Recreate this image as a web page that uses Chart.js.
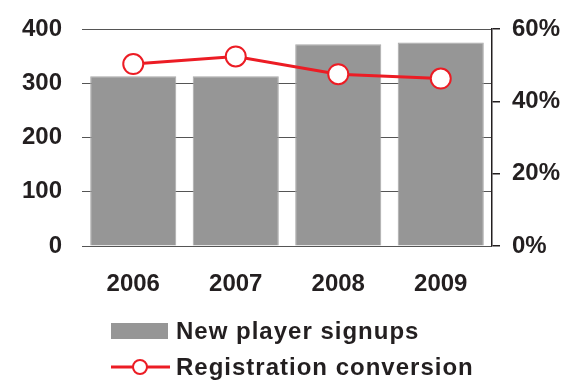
<!DOCTYPE html>
<html>
<head>
<meta charset="utf-8">
<script src="https://cdn.jsdelivr.net/npm/chart.js@4/dist/chart.umd.min.js"></script>
<style>
  html, body { margin: 0; padding: 0; background: #ffffff; }
  #wrap { width: 567px; height: 381px; }
</style>
</head>
<body>
<div id="wrap"><canvas id="chart" width="567" height="381"></canvas></div>
<script>
// Yearly figures
const years = ['2006', '2007', '2008', '2009'];
const signups = [313, 313, 372, 375];            // new player signups
const conversion = [50.3, 52.4, 47.5, 46.3];     // registration conversion, %
const leftTicks = [0, 100, 200, 300, 400];
const rightTicks = [0, 20, 40, 60];

const seriesNames = ['New player signups', 'Registration conversion'];

const TEXT = '#231f20';
const BAR = '#969696';
const RED = '#ec1c24';
const FONT = '"Liberation Sans", Arial, Helvetica, sans-serif';

// Legend drawn underneath the axes, one row per series
const legendRows = {
  id: 'legendRows',
  afterDraw(chart) {
    const ctx = chart.ctx;
    const ds = chart.data.datasets;
    const bars = ds.find(d => d.type === 'bar');
    const line = ds.find(d => d.type === 'line');
    ctx.save();
    ctx.font = 'bold 24px ' + FONT;
    if ('letterSpacing' in ctx) ctx.letterSpacing = '1px';
    ctx.textBaseline = 'middle';
    ctx.textAlign = 'left';

    // bar swatch
    ctx.fillStyle = bars.backgroundColor;
    ctx.fillRect(111, 323, 57, 16);
    ctx.fillStyle = TEXT;
    ctx.fillText(bars.label, 176, 332);

    // line + marker swatch
    ctx.strokeStyle = line.borderColor;
    ctx.lineWidth = 3;
    ctx.beginPath();
    ctx.moveTo(111, 367);
    ctx.lineTo(170, 367);
    ctx.stroke();
    ctx.beginPath();
    ctx.arc(140, 367, 7, 0, Math.PI * 2);
    ctx.fillStyle = '#ffffff';
    ctx.fill();
    ctx.lineWidth = 2;
    ctx.stroke();
    ctx.fillStyle = TEXT;
    ctx.fillText(line.label, 176, 368);
    ctx.restore();
  }
};

// fixed axis sizes so the plot area sits at a known place
function fitY(width) {
  return scale => {
    scale.width = width;
    scale.paddingTop = 0;
    scale.paddingBottom = 0;
  };
}

new Chart(document.getElementById('chart'), {
  data: {
    labels: years,
    datasets: [
      {
        type: 'line',
        label: seriesNames[1],
        data: conversion,
        yAxisID: 'y1',
        borderColor: RED,
        borderWidth: 3,
        pointRadius: 10,
        pointBorderWidth: 2,
        pointBackgroundColor: '#ffffff',
        pointBorderColor: RED,
        tension: 0,
        order: 0
      },
      {
        type: 'bar',
        label: seriesNames[0],
        data: signups,
        yAxisID: 'y',
        backgroundColor: BAR,
        borderColor: '#a9a9a9',
        borderWidth: 1,
        barPercentage: 0.84,
        categoryPercentage: 1,
        order: 1
      }
    ]
  },
  options: {
    responsive: false,
    animation: false,
    events: [],
    layout: { padding: { top: 29, left: 0, right: 0, bottom: 0 } },
    plugins: {
      legend: { display: false },
      tooltip: { enabled: false }
    },
    scales: {
      x: {
        grid: { display: false, drawTicks: false },
        border: { display: false },
        ticks: {
          color: TEXT,
          font: { family: FONT, size: 24, weight: 'bold' },
          padding: 24
        },
        afterFit(scale) { scale.height = 135; scale.paddingLeft = 0; scale.paddingRight = 0; }
      },
      y: {
        position: 'left',
        min: 0,
        max: 400,
        afterBuildTicks(scale) { scale.ticks = leftTicks.map(v => ({ value: v })); },
        grid: { color: '#555555', lineWidth: 1, drawTicks: false },
        border: { display: false },
        ticks: {
          color: TEXT,
          font: { family: FONT, size: 24, weight: 'bold' },
          padding: 20
        },
        afterFit: fitY(82)
      },
      y1: {
        position: 'right',
        min: 0,
        max: 60,
        afterBuildTicks(scale) { scale.ticks = rightTicks.map(v => ({ value: v })); },
        grid: { drawOnChartArea: false, drawTicks: true, tickLength: 8, color: TEXT, lineWidth: 1.5 },
        border: { display: true, color: TEXT, width: 1.5 },
        ticks: {
          color: TEXT,
          font: { family: FONT, size: 24, weight: 'bold' },
          padding: 12,
          callback: v => v + '%'
        },
        afterFit: fitY(75)
      }
    }
  },
  plugins: [legendRows]
});
</script>
</body>
</html>
